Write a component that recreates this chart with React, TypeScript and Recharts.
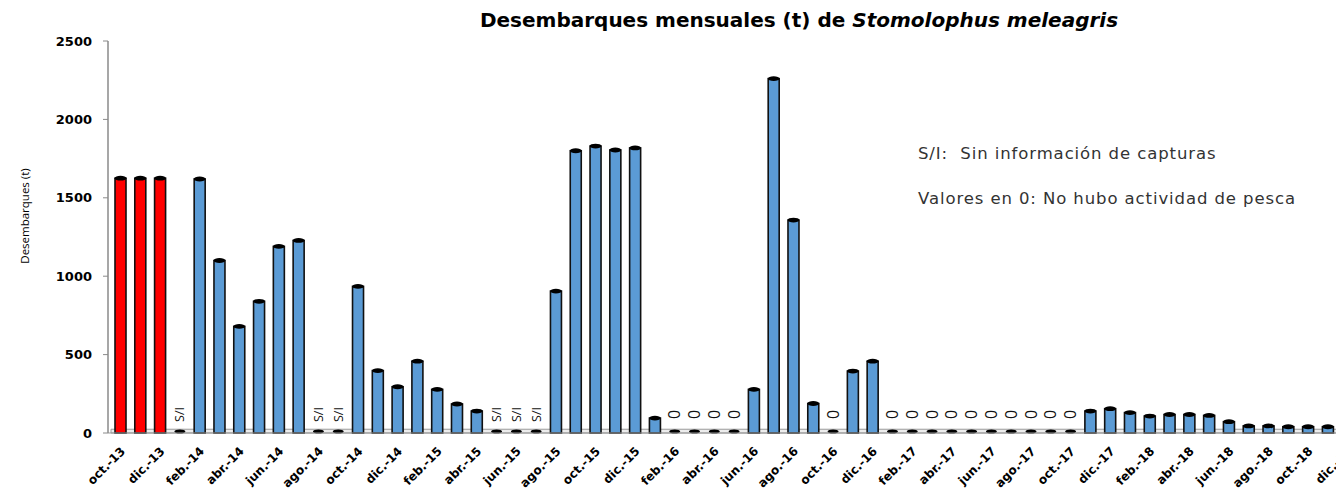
import React from 'react';
import { BarChart, Bar, XAxis, YAxis, ReferenceArea } from 'recharts';

const months: string[] = [
  'oct.-13', 'nov.-13', 'dic.-13',
  'ene.-14', 'feb.-14', 'mar.-14', 'abr.-14', 'may.-14', 'jun.-14', 'jul.-14', 'ago.-14', 'sep.-14', 'oct.-14', 'nov.-14', 'dic.-14',
  'ene.-15', 'feb.-15', 'mar.-15', 'abr.-15', 'may.-15', 'jun.-15', 'jul.-15', 'ago.-15', 'sep.-15', 'oct.-15', 'nov.-15', 'dic.-15',
  'ene.-16', 'feb.-16', 'mar.-16', 'abr.-16', 'may.-16', 'jun.-16', 'jul.-16', 'ago.-16', 'sep.-16', 'oct.-16', 'nov.-16', 'dic.-16',
  'ene.-17', 'feb.-17', 'mar.-17', 'abr.-17', 'may.-17', 'jun.-17', 'jul.-17', 'ago.-17', 'sep.-17', 'oct.-17', 'nov.-17', 'dic.-17',
  'ene.-18', 'feb.-18', 'mar.-18', 'abr.-18', 'may.-18', 'jun.-18', 'jul.-18', 'ago.-18', 'sep.-18', 'oct.-18', 'nov.-18', 'dic.-18',
];

// null = S/I (sin información)
const landings: (number | null)[] = [
  1625, 1625, 1625,
  null, 1620, 1100, 680, 840, 1190, 1228, null, null, 935, 398, 295,
  458, 278, 185, 140, null, null, null, 905, 1800, 1830, 1805, 1818,
  95, 0, 0, 0, 0, 278, 2260, 1358, 188, 0, 395, 458,
  0, 0, 0, 0, 0, 0, 0, 0, 0, 0, 140, 155,
  130, 108, 118, 118, 112, 72, 45, 45, 40, 40, 40, 40,
];

const previousPeriod: string[] = ['oct.-13', 'nov.-13', 'dic.-13'];

const yTicks: number[] = [0, 500, 1000, 1500, 2000, 2500];

const title = 'Desembarques mensuales (t) de ';
const titleSpecies = 'Stomolophus meleagris';
const yLabel = 'Desembarques (t)';
const noteSI = 'S/I:  Sin información de capturas';
const noteZero = 'Valores en 0: No hubo actividad de pesca';

const rows = months.map((m, i) => ({
  month: m,
  value: landings[i] === null ? 0 : landings[i],
  note: landings[i] === null ? 'S/I' : landings[i] === 0 ? '0' : '',
  color: previousPeriod.includes(m) ? '#FF0000' : '#5B9BD5',
}));

const FONT = '"Open Sans", "DejaVu Sans", sans-serif';

const CylBar = (props: any) => {
  const { x, y, width, height, payload } = props;
  const cx = x + width / 2;
  const base = y + height;
  if (payload.note) {
    const ty = base - 18.5;
    const isZero = payload.note === '0';
    return (
      <g>
        <ellipse cx={cx} cy={base - 1.5} rx={width / 2} ry={2} fill="#000" />
        <text
          x={cx}
          y={ty}
          transform={`rotate(-90 ${cx} ${ty})`}
          textAnchor="middle"
          dy="0.35em"
          fontSize={isZero ? 16 : 12.5}
          fontFamily={FONT}
          fill="#111"
        >
          {payload.note}
        </text>
      </g>
    );
  }
  return (
    <g>
      <rect x={x} y={y} width={width} height={height} fill={payload.color} stroke="#111" strokeWidth={1.6} />
      <ellipse cx={cx} cy={y} rx={width / 2 + 0.3} ry={2.4} fill="#000" />
    </g>
  );
};

const XTick = (props: any) => {
  const { x, payload } = props;
  const ax = x + 2;
  const ay = 449;
  return (
    <text
      x={ax}
      y={ay}
      dy="0.35em"
      textAnchor="end"
      transform={`rotate(-45 ${ax} ${ay})`}
      fontSize={12}
      fontWeight="bold"
      fontFamily='"DejaVu Sans", sans-serif'
      fill="#000"
    >
      {payload.value}
    </text>
  );
};

const YLabel = () => (
  <text
    x={25}
    y={216}
    transform="rotate(-90 25 216)"
    textAnchor="middle"
    dy="0.35em"
    fontSize={11.5}
    fontFamily={FONT}
    fill="#000"
  >
    {yLabel}
  </text>
);

const noteStyle: React.CSSProperties = {
  position: 'absolute',
  left: 918,
  whiteSpace: 'pre',
  fontFamily: '"DejaVu Sans", sans-serif',
  fontSize: 16.5,
  letterSpacing: 0.9,
  lineHeight: '22px',
  color: '#333',
};

export default function App() {
  return (
    <div style={{ position: 'relative', margin: '-8px 0 0 -8px', width: 1344, height: 489, overflow: 'hidden', background: '#fff' }}>
      <BarChart
        width={1370}
        height={489}
        data={rows}
        margin={{ top: 41, right: 12, left: 0, bottom: 0 }}
      >
        <XAxis
          dataKey="month"
          interval={1}
          tick={<XTick />}
          tickLine={false}
          axisLine={{ stroke: '#9a9a9a', strokeWidth: 1.2 }}
          height={56}
          padding={{ left: 3, right: 0 }}
        />
        <YAxis
          domain={[0, 2500]}
          ticks={yTicks}
          width={108}
          tickSize={5}
          tickMargin={11}
          axisLine={{ stroke: '#8a8a8a', strokeWidth: 1.5 }}
          tickLine={{ stroke: '#8a8a8a' }}
          tick={{ fontSize: 13, fontWeight: 'bold', fill: '#000', fontFamily: '"DejaVu Sans", sans-serif' }}
          label={{ content: () => <YLabel /> }}
        />
        <ReferenceArea y1={0} y2={24} fill="#ececec" stroke="#9a9a9a" strokeWidth={1} fillOpacity={1} />
        <Bar dataKey="value" barSize={11} shape={<CylBar />} isAnimationActive={false} />
      </BarChart>
      <div
        style={{
          position: 'absolute',
          left: 799,
          top: 8,
          transform: 'translateX(-50%)',
          whiteSpace: 'nowrap',
          fontFamily: '"DejaVu Sans", sans-serif',
          fontWeight: 'bold',
          fontSize: 20,
          lineHeight: '24px',
          color: '#000',
        }}
      >
        {title}
        <i>{titleSpecies}</i>
      </div>
      <div style={{ ...noteStyle, top: 143 }}>{noteSI}</div>
      <div style={{ ...noteStyle, top: 188 }}>{noteZero}</div>
    </div>
  );
}
